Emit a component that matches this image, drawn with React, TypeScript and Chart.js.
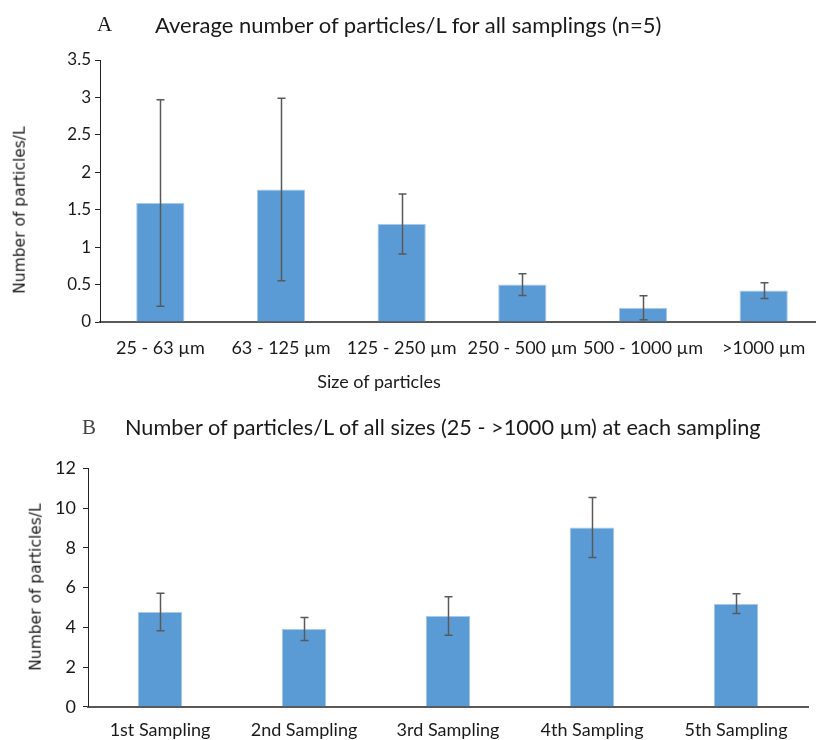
import React, { useEffect, useRef } from "react";
import { Chart, registerables } from "chart.js";

Chart.register(...registerables);

const sizeLabels = ["25 - 63 µm", "63 - 125 µm", "125 - 250 µm", "250 - 500 µm", "500 - 1000 µm", ">1000 µm"];
const sizeMeans = [1.59, 1.77, 1.31, 0.5, 0.19, 0.42];
const sizeErrors = [1.38, 1.22, 0.4, 0.145, 0.16, 0.105];

const samplingLabels = ["1st Sampling", "2nd Sampling", "3rd Sampling", "4th Sampling", "5th Sampling"];
const samplingMeans = [4.77, 3.92, 4.57, 9.03, 5.19];
const samplingErrors = [0.95, 0.58, 0.97, 1.51, 0.5];

const titleA = "Average number of particles/L for all samplings (n=5)";
const titleB = "Number of particles/L of all sizes (25 - >1000 µm) at each sampling";
const yTitle = "Number of particles/L";
const xTitleA = "Size of particles";

const BAR = "#5B9BD5";
const BAR_EDGE = "#A9C9EA";
const AXIS = "#595959";
const TXT = "#1a1a1a";
const FONT = "Lato";

const errorBarPlugin = {
  id: "errorBars",
  afterDatasetsDraw(chart: any, _args: any, opts: any) {
    const errs: number[] = opts.errors || [];
    const meta = chart.getDatasetMeta(0);
    const ys = chart.scales.y;
    const ctx = chart.ctx;
    const data = chart.data.datasets[0].data as number[];
    ctx.save();
    ctx.strokeStyle = opts.color || AXIS;
    ctx.lineWidth = opts.width || 1.5;
    const cap = opts.cap || 4;
    meta.data.forEach((bar: any, i: number) => {
      const v = data[i];
      const e = errs[i] || 0;
      const x = Math.round(bar.x) + 0.5;
      const yt = ys.getPixelForValue(v + e);
      const yb = ys.getPixelForValue(v - e);
      ctx.beginPath();
      ctx.moveTo(x, yt);
      ctx.lineTo(x, yb);
      ctx.moveTo(x - cap, yt);
      ctx.lineTo(x + cap, yt);
      ctx.moveTo(x - cap, yb);
      ctx.lineTo(x + cap, yb);
      ctx.stroke();
    });
    ctx.restore();
  },
};

function makeConfig(p: {
  labels: string[];
  data: number[];
  errors: number[];
  max: number;
  step: number;
  barPct: number;
  padTop: number;
  padRight: number;
  yWidth: number;
  xHeight: number;
  tickFont: number;
  xTickFont: number;
  xPad: number;
  yPad: number;
}): any {
  return {
    type: "bar",
    data: {
      labels: p.labels,
      datasets: [
        {
          data: p.data,
          backgroundColor: BAR,
          borderColor: BAR_EDGE,
          borderWidth: 1,
          categoryPercentage: 1,
          barPercentage: p.barPct,
        },
      ],
    },
    options: {
      animation: false,
      responsive: false,
      maintainAspectRatio: false,
      layout: { padding: { top: p.padTop, right: p.padRight, left: 0, bottom: 0 } },
      plugins: {
        legend: { display: false },
        tooltip: { enabled: false },
        title: { display: false },
        errorBars: { errors: p.errors, color: AXIS, width: 1.5, cap: 4 },
      },
      scales: {
        x: {
          grid: { display: false, drawTicks: false },
          border: { display: true, color: AXIS, width: 2 },
          ticks: {
            color: TXT,
            font: { family: FONT, size: p.xTickFont },
            padding: p.xPad,
            maxRotation: 0,
            autoSkip: false,
          },
          afterFit: (s: any) => {
            s.height = p.xHeight;
          },
        },
        y: {
          min: 0,
          max: p.max,
          grid: { display: true, drawOnChartArea: false, drawTicks: true, tickLength: 5, color: "#222", lineWidth: 1 },
          border: { display: true, color: "#222", width: 1 },
          ticks: {
            stepSize: p.step,
            color: TXT,
            font: { family: FONT, size: p.tickFont },
            padding: p.yPad,
            callback: (v: any) => String(Number(v)),
          },
          afterFit: (s: any) => {
            s.width = p.yWidth;
          },
        },
      },
    },
    plugins: [errorBarPlugin],
  };
}

function BarChart(props: { cfg: any; width: number; height: number; style: any }) {
  const ref = useRef<HTMLCanvasElement | null>(null);
  useEffect(() => {
    if (!ref.current) return;
    const c = new Chart(ref.current, props.cfg);
    return () => c.destroy();
  }, []);
  return (
    <canvas
      ref={ref}
      width={props.width}
      height={props.height}
      style={{ position: "absolute", width: props.width, height: props.height, ...props.style }}
    />
  );
}

const abs = (o: any) => ({ position: "absolute", margin: 0, whiteSpace: "nowrap", lineHeight: 1.2, ...o });

export default function App() {
  const cfgA = makeConfig({
    labels: sizeLabels,
    data: sizeMeans,
    errors: sizeErrors,
    max: 3.5,
    step: 0.5,
    barPct: 0.4,
    padTop: 60,
    padRight: 6,
    yWidth: 100,
    xHeight: 78,
    tickFont: 17,
    xTickFont: 18,
    xPad: 15,
    yPad: 4,
  });
  const cfgB = makeConfig({
    labels: samplingLabels,
    data: samplingMeans,
    errors: samplingErrors,
    max: 12,
    step: 2,
    barPct: 0.31,
    padTop: 58.5,
    padRight: 8,
    yWidth: 88,
    xHeight: 33.3,
    tickFont: 18,
    xTickFont: 18,
    xPad: 13,
    yPad: 7,
  });
  return (
    <div
      style={{
        position: "fixed",
        left: 0,
        top: 0,
        width: 816,
        height: 740,
        overflow: "hidden",
        background: "#fff",
      }}
    >
      <BarChart cfg={cfgA} width={830} height={400} style={{ left: 0, top: 0 }} />
      <BarChart cfg={cfgB} width={816} height={330} style={{ left: 0, top: 410 }} />

      <div style={abs({ left: 97, top: 12, fontFamily: "'Liberation Serif', serif", fontSize: 21, color: TXT })}>A</div>
      <div style={abs({ left: 155, top: 12, fontFamily: FONT, fontSize: 22, color: TXT })}>{titleA}</div>

      <div style={abs({ left: 82, top: 415, fontFamily: "'Liberation Serif', serif", fontSize: 21, color: "#444" })}>B</div>
      <div style={abs({ left: 125, top: 414, fontFamily: FONT, fontSize: 21.7, color: TXT })}>{titleB}</div>

      <div style={abs({ left: 379, top: 371, transform: "translateX(-50%)", fontFamily: FONT, fontSize: 18, color: TXT })}>
        {xTitleA}
      </div>

      <div
        style={abs({
          left: 20,
          top: 210,
          transform: "translate(-50%, -50%) rotate(-90deg)",
          fontFamily: "'DejaVu Sans', sans-serif",
          fontSize: 15.5,
          color: TXT,
        })}
      >
        {yTitle}
      </div>
      <div
        style={abs({
          left: 36,
          top: 587,
          transform: "translate(-50%, -50%) rotate(-90deg)",
          fontFamily: "'DejaVu Sans', sans-serif",
          fontSize: 15.5,
          color: TXT,
        })}
      >
        {yTitle}
      </div>
    </div>
  );
}
